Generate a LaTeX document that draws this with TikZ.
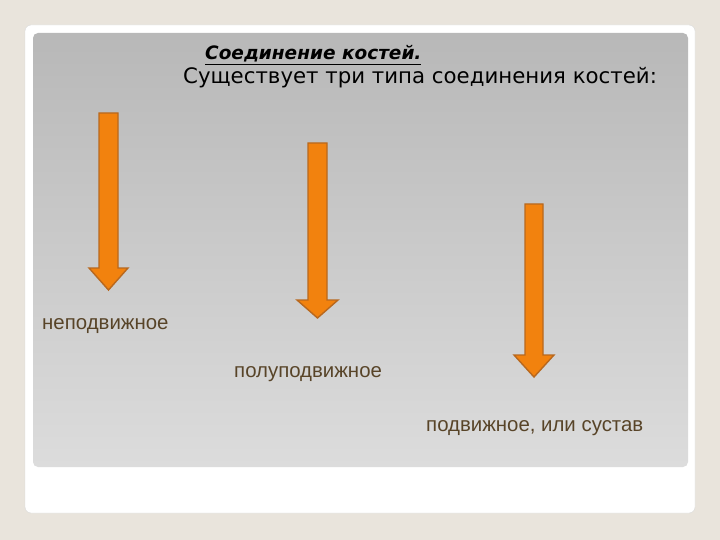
\documentclass[tikz,border=0pt]{standalone}
\usepackage{fontspec}
\setmainfont{DejaVu Sans}
\newfontfamily\labelfont{Liberation Sans}
\usetikzlibrary{positioning}
\definecolor{pagebg}{RGB}{233,228,220}
\definecolor{paneltop}{RGB}{184,184,184}
\definecolor{panelbot}{RGB}{220,220,220}
\definecolor{arrowfill}{RGB}{242,130,14}
\definecolor{arrowedge}{RGB}{184,104,30}
\definecolor{labelcol}{RGB}{88,68,40}
\tikzset{
  bigarrow/.style={fill=arrowfill, draw=arrowedge, line width=1.4pt, line join=miter},
  kind/.style={anchor=base west, inner sep=0pt, text=labelcol, font=\labelfont\fontsize{20.4}{24}\selectfont},
}
\begin{document}
\begin{tikzpicture}[x=1pt,y=-1pt]
            \useasboundingbox (0,0) rectangle (720,540);
            \fill[pagebg] (0,0) rectangle (720,540);
            \draw[black!15, fill=white, rounded corners=6pt] (25,25) rectangle (695,513);
            \shade[top color=paneltop, bottom color=panelbot, rounded corners=5pt] (33,33) rectangle (688,467);

            \node (title) [anchor=base west, inner sep=0pt, font=\bfseries\itshape\fontsize{18.5}{22}\selectfont] at (205,60) {\underline{Соединение костей.}};
            \node (intro) [anchor=base west, inner sep=0pt, font=\fontsize{21.3}{25}\selectfont] at (183,84) {Существует три типа соединения костей:};

            \draw[bigarrow] (99,113) -- (118,113) -- (118,268) -- (128,268) -- (108.5,290) -- (89,268) -- (99,268) -- cycle;
            \draw[bigarrow] (308,143) -- (327,143) -- (327,300) -- (338,300) -- (317.5,318) -- (297,300) -- (308,300) -- cycle;
            \draw[bigarrow] (525,204) -- (543,204) -- (543,355) -- (554,355) -- (534,377) -- (514,355) -- (525,355) -- cycle;

            \node (fixed) [kind] at (42,329) {неподвижное};
            \node (semi) [kind] at (234,377) {полуподвижное};
            \node (joint) [kind] at (426,431) {подвижное, или сустав};
        \end{tikzpicture}
\end{document}
